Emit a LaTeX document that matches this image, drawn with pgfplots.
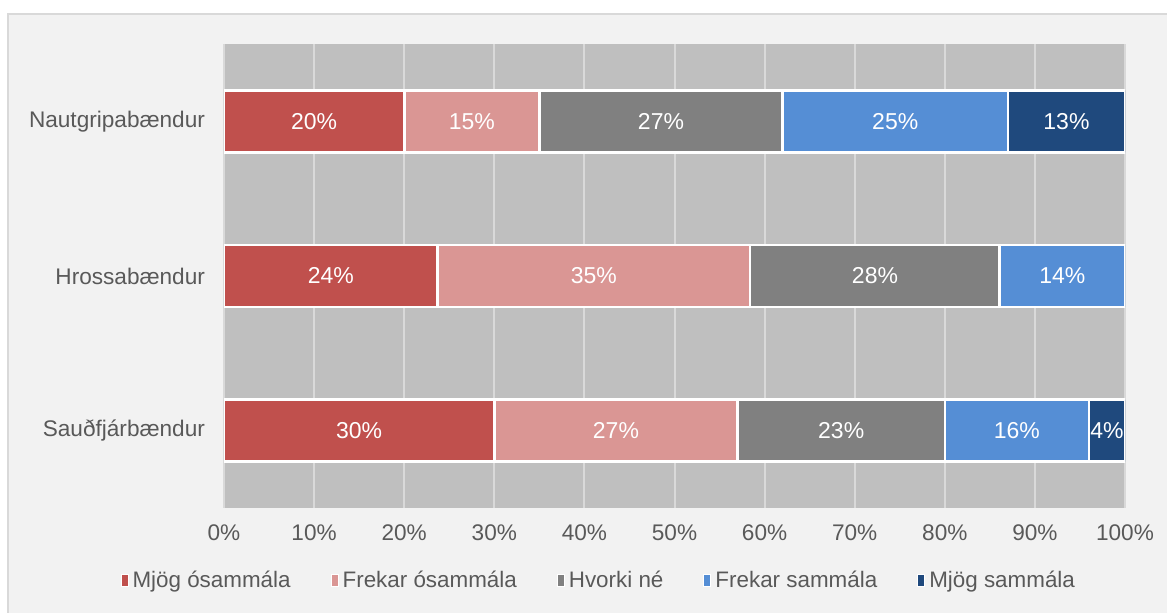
\documentclass[border=0pt]{standalone}
\usepackage{pgfplots}
\pgfplotsset{compat=1.18}
\usepackage{pgfplotstable}
\usepackage{fontspec}
\setmainfont{Liberation Sans}
\definecolor{c1}{HTML}{C0504D}
\definecolor{c2}{HTML}{DA9694}
\definecolor{c3}{HTML}{808080}
\definecolor{c4}{HTML}{558ED5}
\definecolor{c5}{HTML}{1F497D}
\definecolor{bgout}{HTML}{F2F2F2}
\definecolor{plotbg}{HTML}{BFBFBF}
\definecolor{gridc}{HTML}{D9D9D9}
\definecolor{txt}{HTML}{595959}

% shares (per cent), rows: 0 = Sauðfjárbændur, 1 = Hrossabændur, 2 = Nautgripabændur
\pgfplotstableread{
y v1 v2 v3 v4 v5
0 30 27 23 16 4
1 23.7 34.7 27.7 13.9 0
2 20 15 27 25 13
}\data

% data labels: centre of each segment and its rounded value
\pgfplotstableread{
x y l
10 2 20
27.5 2 15
48.5 2 27
74.5 2 25
93.5 2 13
11.85 1 24
41.05 1 35
72.25 1 28
93.05 1 14
15 0 30
43.5 0 27
68.5 0 23
88 0 16
98 0 4
}\labels

\begin{document}
\begin{tikzpicture}
\useasboundingbox (0pt,0pt) rectangle (583.5pt,306.5pt);
\fill[white] (0pt,0pt) rectangle (583.5pt,306.5pt);
\filldraw[fill=bgout, draw=gridc, line width=1pt] (4pt,-3pt) rectangle (590pt,299.5pt);
\begin{axis}[
  at={(112pt,52.5pt)}, anchor=south west,
  scale only axis, width=450.5pt, height=232pt,
  xbar stacked,
  bar width=31pt,
  xmin=0, xmax=100, ymin=-0.5, ymax=2.5,
  ytick={0,1,2}, yticklabels={Sauðfjárbændur,Hrossabændur,Nautgripabændur},
  xtick={0,10,...,100},
  xticklabel={\pgfmathprintnumber{\tick}\%},
  /pgf/number format/assume math mode=true,
  axis background/.style={fill=plotbg},
  axis line style={draw=none},
  major tick length=0pt,
  xmajorgrids, grid style={gridc, line width=1pt},
  tick label style={font=\fontsize{11.3}{13}\selectfont, text=txt},
  yticklabel style={xshift=-6pt},
  xticklabel style={yshift=-4.8pt},
  legend style={at={(0.417,-0.157)}, anchor=center, draw=none, fill=none,
    legend columns=5, font=\fontsize{11.2}{13}\selectfont, text=txt,
    /tikz/every even column/.append style={column sep=18pt}},
  legend image code/.code={\filldraw[#1, draw=white, line width=0.5pt] (0pt,-3pt) rectangle (3.5pt,3pt);},
  every axis plot/.append style={draw=white, line width=1.3pt},
]
\addplot[fill=c1] table[x=v1,y=y]{\data};
\addplot[fill=c2] table[x=v2,y=y]{\data};
\addplot[fill=c3] table[x=v3,y=y]{\data};
\addplot[fill=c4] table[x=v4,y=y]{\data};
\addplot[fill=c5] table[x=v5,y=y]{\data};
\legend{Mjög ósammála, Frekar ósammála, Hvorki né, Frekar sammála, Mjög sammála}
\end{axis}
\begin{axis}[
  at={(112pt,52.5pt)}, anchor=south west,
  scale only axis, width=450.5pt, height=232pt,
  xmin=0, xmax=100, ymin=-0.5, ymax=2.5,
  hide axis,
  /pgf/number format/assume math mode=true,
]
\addplot[draw=none, mark=none, nodes near coords={\pgfmathprintnumber[fixed,precision=0,assume math mode=true]{\pgfplotspointmeta}\%},
  point meta=explicit,
  every node near coord/.append style={anchor=center, text=white, font=\fontsize{11.5}{13}\selectfont}]
  table[x=x,y=y,meta=l]{\labels};
\end{axis}
\end{tikzpicture}
\end{document}
